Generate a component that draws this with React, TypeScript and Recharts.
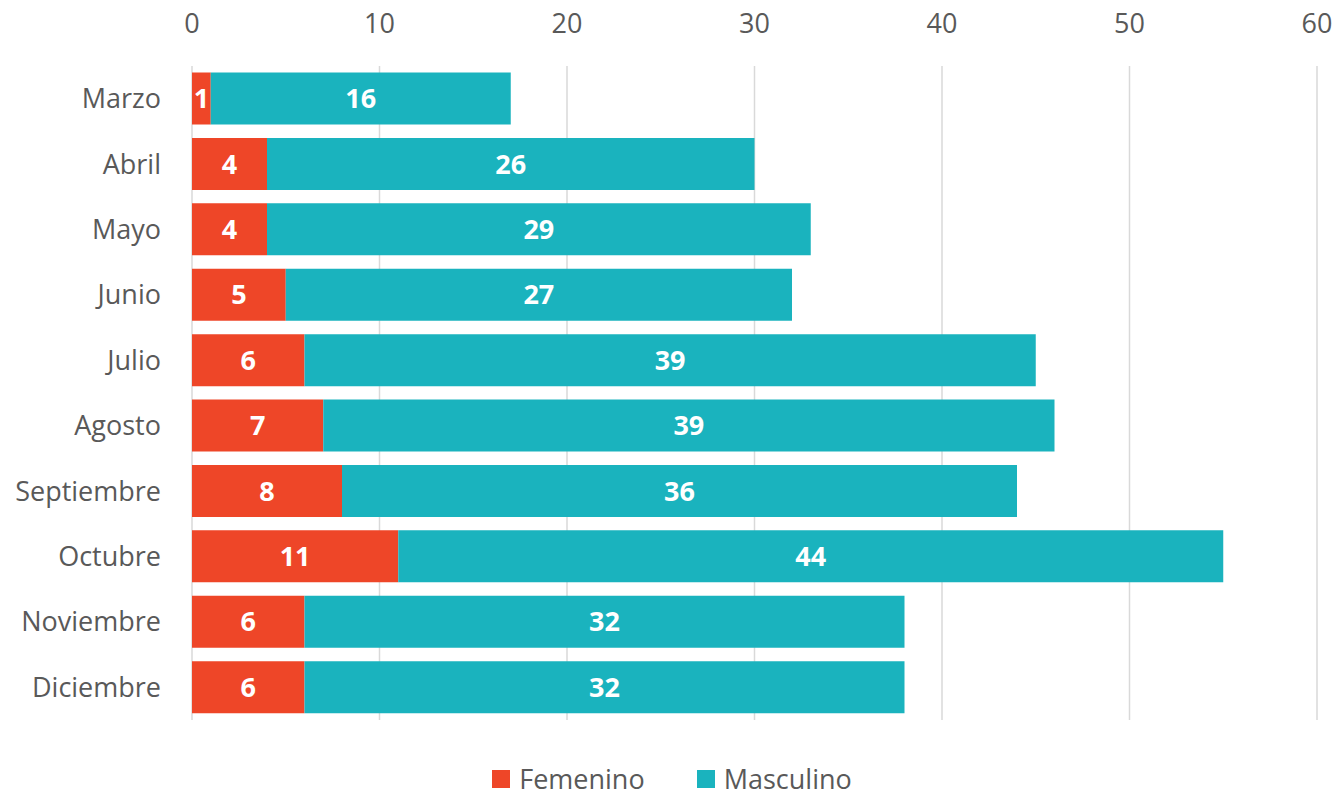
import { BarChart, Bar, XAxis, YAxis, CartesianGrid, Legend, LabelList } from 'recharts';

const months = ['Marzo', 'Abril', 'Mayo', 'Junio', 'Julio', 'Agosto', 'Septiembre', 'Octubre', 'Noviembre', 'Diciembre'];
const femenino = [1, 4, 4, 5, 6, 7, 8, 11, 6, 6];
const masculino = [16, 26, 29, 27, 39, 39, 36, 44, 32, 32];
const xTicks = [0, 10, 20, 30, 40, 50, 60];

const data = months.map((month, i) => ({
  month,
  Femenino: femenino[i],
  Masculino: masculino[i],
}));

const colors = {
  femenino: '#EE4628',
  masculino: '#1AB3BE',
  text: '#595959',
  grid: '#D9D9D9',
};

const FONT = '"Open Sans", sans-serif';

// legend sits at the bottom of a fixed-height strip so the plot ends where the reference does
const CustomLegend = () => (
  <div
    style={{
      height: 78,
      display: 'flex',
      justifyContent: 'center',
      alignItems: 'flex-end',
      paddingLeft: 27,
      paddingBottom: 4,
      boxSizing: 'border-box',
      fontFamily: FONT,
      fontSize: 27,
      color: colors.text,
    }}
  >
    {[
      { name: 'Femenino', color: colors.femenino },
      { name: 'Masculino', color: colors.masculino },
    ].map((item, i) => (
      <div key={item.name} style={{ display: 'flex', alignItems: 'center', height: 30, marginLeft: i ? 52 : 0 }}>
        <div style={{ width: 18, height: 18, background: item.color, marginRight: 9 }} />
        <span style={{ lineHeight: '30px' }}>{item.name}</span>
      </div>
    ))}
  </div>
);

export default function App() {
  return (
    <div>
      <style>{`body { margin: 0; }`}</style>
      <BarChart
        width={1338}
        height={798}
        data={data}
        layout="vertical"
        margin={{ top: 26, right: 21, bottom: 0, left: 0 }}
        barCategoryGap="10%"
      >
        <CartesianGrid horizontal={false} stroke={colors.grid} strokeWidth={1.5} />
        <XAxis
          type="number"
          orientation="top"
          domain={[0, 60]}
          ticks={xTicks}
          height={40}
          axisLine={false}
          tickLine={false}
          tickMargin={27}
          tick={{ fill: colors.text, fontSize: 27, fontFamily: FONT }}
        />
        <YAxis
          type="category"
          dataKey="month"
          width={192}
          axisLine={false}
          tickLine={false}
          tickMargin={25}
          tick={{ fill: colors.text, fontSize: 27, fontFamily: FONT }}
        />
        <Legend verticalAlign="bottom" content={<CustomLegend />} />
        <Bar dataKey="Femenino" stackId="a" fill={colors.femenino} isAnimationActive={false}>
          <LabelList
            dataKey="Femenino"
            position="center"
            fill="#FFFFFF"
            style={{ fontSize: 27, fontWeight: 700, fontFamily: FONT }}
          />
        </Bar>
        <Bar dataKey="Masculino" stackId="a" fill={colors.masculino} isAnimationActive={false}>
          <LabelList
            dataKey="Masculino"
            position="center"
            fill="#FFFFFF"
            style={{ fontSize: 27, fontWeight: 700, fontFamily: FONT }}
          />
        </Bar>
      </BarChart>
    </div>
  );
}
